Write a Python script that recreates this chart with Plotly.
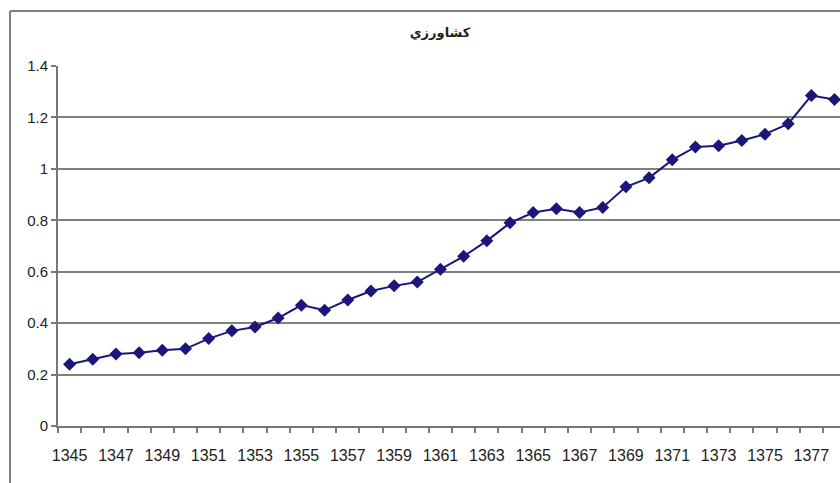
import plotly.graph_objects as go

years = list(range(1345, 1379))
values = [0.24, 0.26, 0.28, 0.285, 0.295, 0.30, 0.34, 0.37, 0.385, 0.42,
          0.47, 0.45, 0.49, 0.525, 0.545, 0.56, 0.61, 0.66, 0.72, 0.79,
          0.83, 0.845, 0.83, 0.85, 0.93, 0.965, 1.035, 1.085, 1.09, 1.11,
          1.135, 1.175, 1.285, 1.27]
tick_years = years[::2]
tick_labels = [str(y) for y in tick_years]
title_text = "کشاورزي"

W, H = 840, 483
L, R, T, B = 58, 0, 66, 57
pw, ph = W - L - R, H - T - B

line_color = "#1c157a"
grey = "#808080"
font_fam = "Liberation Sans Narrow, Arial Narrow, Liberation Sans, Arial, sans-serif"

fig = go.Figure()
fig.add_trace(go.Scatter(
    x=years, y=values, mode="lines+markers",
    line=dict(color=line_color, width=2),
    marker=dict(symbol="diamond", size=10, color=line_color),
    showlegend=False, hoverinfo="x+y",
))

fig.update_layout(
    width=W, height=H,
    margin=dict(l=L, r=R, t=T, b=B, pad=0),
    paper_bgcolor="white", plot_bgcolor="white",
    title=dict(text="<b>" + title_text + "</b>", font=dict(family="DejaVu Sans", size=13, color="#222"),
               xref="container", yref="container", x=440 / W, y=1 - 32 / H,
               xanchor="center", yanchor="middle"),
    xaxis=dict(
        range=[years[0] - 0.5, years[0] - 0.5 + pw / 23.18],
        tickmode="array", tickvals=tick_years, ticktext=tick_labels,
        ticks="outside", ticklen=14, tickcolor="rgba(0,0,0,0)",
        minor=dict(ticks="outside", tickmode="linear", tick0=years[0] - 0.5, dtick=1,
                   ticklen=5, tickwidth=2, tickcolor="#777", showgrid=False),
        showline=True, linecolor="#777", linewidth=2,
        showgrid=False, zeroline=False,
        tickfont=dict(family=font_fam, size=16, color="#222"),
    ),
    yaxis=dict(
        range=[0, 1.4], tickmode="linear", tick0=0, dtick=0.2,
        ticks="outside", ticklen=5, tickwidth=2, tickcolor="#777",
        showline=True, linecolor="#777", linewidth=2,
        showgrid=True, gridcolor=grey, gridwidth=2, zeroline=False,
        tickfont=dict(family=font_fam, size=15, color="#222"),
    ),
    shapes=[
        dict(type="line", xref="paper", yref="paper",
             x0=(10 - L) / pw, x1=1.02, y0=1 + (T - 11) / ph, y1=1 + (T - 11) / ph,
             line=dict(color="#7f7f7f", width=2)),
        dict(type="line", xref="paper", yref="paper",
             x0=(10 - L) / pw, x1=(10 - L) / pw, y0=1 + (T - 11) / ph, y1=-(B + 5) / ph,
             line=dict(color="#7f7f7f", width=2)),
    ],
)

fig.write_html("out.html", config={"displayModeBar": False},
               post_script="document.body.style.margin='0px';document.body.style.overflow='hidden';")
